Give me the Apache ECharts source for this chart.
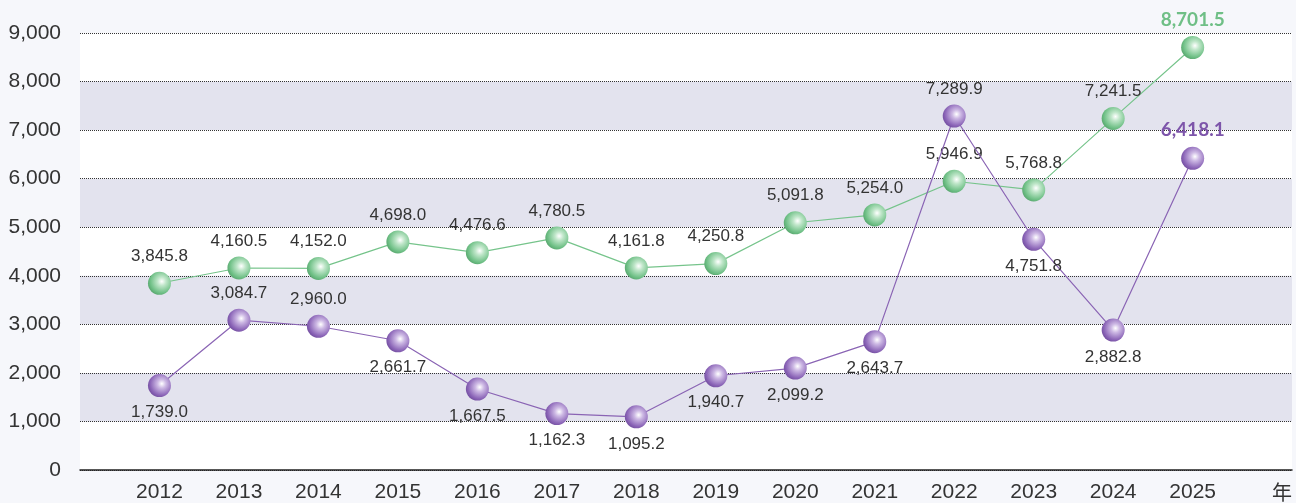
<!DOCTYPE html>
<html>
<head>
<meta charset="utf-8">
<script src="https://cdn.jsdelivr.net/npm/echarts@6/dist/echarts.min.js"></script>
<style>
html,body{margin:0;padding:0;background:#f6f7fb;}
#chart{width:1296px;height:503px;}
</style>
</head>
<body>
<div id="chart"></div>
<script>
const years = [2012,2013,2014,2015,2016,2017,2018,2019,2020,2021,2022,2023,2024,2025];
const greenValues = [3845.8,4160.5,4152.0,4698.0,4476.6,4780.5,4161.8,4250.8,5091.8,5254.0,5946.9,5768.8,7241.5,8701.5];
const purpleValues = [1739.0,3084.7,2960.0,2661.7,1667.5,1162.3,1095.2,1940.7,2099.2,2643.7,7289.9,4751.8,2882.8,6418.1];
const purpleAboveYears = [2013,2014,2022,2025];
const yTicks = [0,1000,2000,3000,4000,5000,6000,7000,8000,9000];
const xUnit = '年';

const fmt = v => v.toLocaleString('en-US',{minimumFractionDigits:1,maximumFractionDigits:1});
const fmtInt = v => v.toLocaleString('en-US');

function ball(c1,c2,c3){
  return {type:'radial',x:0.6,y:0.42,r:0.62,colorStops:[
    {offset:0,color:'#ffffff'},{offset:0.3,color:c1},{offset:0.8,color:c2},{offset:1,color:c3}]};
}
const greenBall = ball('#bfe6c9','#6fc086','#5aa870');
const purpleBall = ball('#cdb9e4','#8c66b8','#7550a2');

const baseLabel = {show:true,fontSize:17,color:'#333',fontFamily:'Liberation Sans, Arial, sans-serif',distance:7,formatter:p=>fmt(p.value[1])};

const greenData = years.map((y,i)=>{
  const d = {value:[y,greenValues[i]]};
  if(i===years.length-1){
    d.label = {fontFamily:'Lato, sans-serif',fontWeight:'bold',fontSize:19,color:'#6fbf86'};
  }
  return d;
});
const purpleData = years.map((y,i)=>{
  const above = purpleAboveYears.includes(y);
  const d = {value:[y,purpleValues[i]],label:{position:above?'top':'bottom'}};
  if(i===years.length-1){
    d.label = {position:'top',fontFamily:'Lato, sans-serif',fontWeight:'bold',fontSize:19,color:'#7d55aa'};
  }
  return d;
});

const chart = echarts.init(document.getElementById('chart'));
chart.setOption({
  backgroundColor:'#f6f7fb',
  animation:false,
  grid:{left:80,right:4,top:33,bottom:33,show:true,backgroundColor:'#ffffff',borderWidth:0},
  xAxis:{
    type:'value',min:2011,max:2026.25,interval:1,
    axisLine:{show:true,lineStyle:{color:'#222',width:1.5}},
    axisTick:{show:false},
    splitLine:{show:false},
    axisLabel:{color:'#333',fontSize:21,fontFamily:'Liberation Sans, Arial, sans-serif',margin:12,
      formatter:v=>years.includes(v)?String(v):''},
    name:xUnit,nameLocation:'end',nameGap:-20,
    nameTextStyle:{color:'#333',fontSize:20,fontFamily:'Noto Sans CJK JP, sans-serif',align:'left',verticalAlign:'top',padding:[12,0,0,0]}
  },
  yAxis:{
    type:'value',min:yTicks[0],max:yTicks[yTicks.length-1],interval:1000,
    axisLine:{show:false},axisTick:{show:false},
    axisLabel:{color:'#333',fontSize:21,fontFamily:'Liberation Sans, Arial, sans-serif',margin:19,formatter:v=>fmtInt(v)},
    splitLine:{show:true,lineStyle:{type:'dotted',color:'#333',width:1}},
    splitArea:{show:true,areaStyle:{color:['rgba(255,255,255,0)','#e3e3ee']}}
  },
  series:[
    {type:'line',data:greenData,symbol:'circle',symbolSize:23,z:3,
      lineStyle:{color:'#76c48b',width:1.2},itemStyle:{color:greenBall},
      label:Object.assign({},baseLabel,{position:'top'})},
    {type:'line',data:purpleData,symbol:'circle',symbolSize:23,z:4,
      lineStyle:{color:'#8a64b4',width:1.2},itemStyle:{color:purpleBall},
      label:Object.assign({},baseLabel)}
  ]
});
</script>
</body>
</html>
